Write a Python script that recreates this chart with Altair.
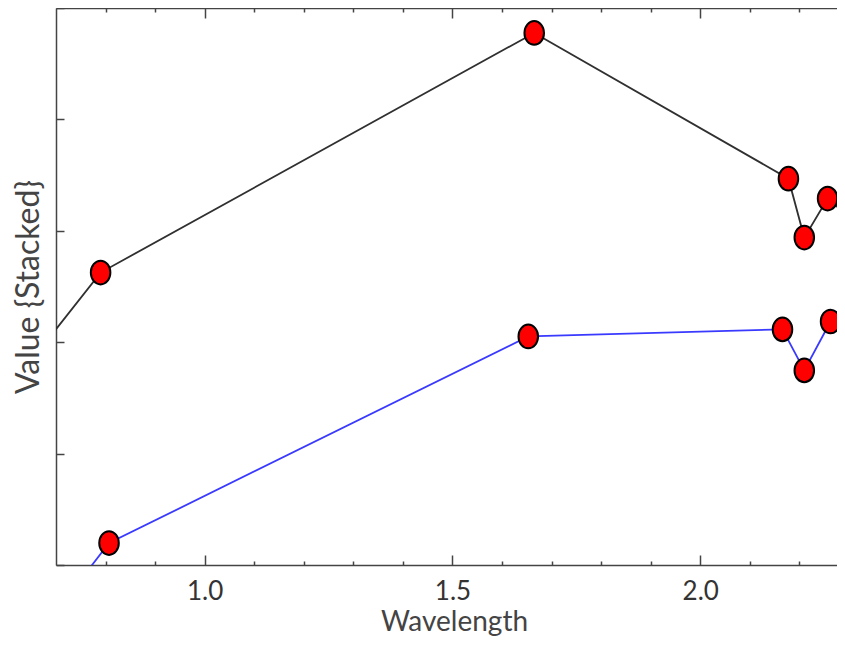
import altair as alt
import pandas as pd

# ---- data ----
wl_top = [0.66, 0.79, 1.665, 2.178, 2.21, 2.257, 2.32]
val_top = [1.89, 2.625, 4.776, 3.468, 2.939, 3.289, 3.055]
wl_bot = [0.66, 0.807, 1.653, 2.166, 2.21, 2.263, 2.32]
val_bot = [-0.65, 0.197, 2.052, 2.115, 1.747, 2.186, 1.877]

x_major = [1.0, 1.5, 2.0]
x_minor = [0.8, 0.9, 1.1, 1.2, 1.3, 1.4, 1.6, 1.7, 1.8, 1.9, 2.1, 2.2]
y_ticks = [0, 1, 2, 3, 4, 5]

top_df = pd.DataFrame({"wl": wl_top, "v": val_top})
bot_df = pd.DataFrame({"wl": wl_bot, "v": val_bot})

FONT = "Lato"
AX = "#444444"
xs = alt.Scale(domain=[0.7, 2.276], nice=False, zero=False)
ys = alt.Scale(domain=[0, 5], nice=False, zero=False)


def inward(n):
    return alt.ExprRef(expr=str(-n))


def axis(**kw):
    base = dict(grid=False, domain=False, ticks=False, labels=False, title=None,
                domainColor=AX, tickColor=AX, domainWidth=1.5, tickWidth=1.5)
    base.update(kw)
    return alt.Axis(**base)


ellipse = "M0,-1A0.826,1,0,1,1,0,1A0.826,1,0,1,1,0,-1Z"

# black line; bottom axis (domain, major ticks inward, labels, title); left axis
l1 = alt.Chart(top_df).mark_line(color="#303030", strokeWidth=1.8, clip=True).encode(
    x=alt.X("wl:Q", scale=xs, axis=axis(orient="bottom", domain=True, ticks=True,
                                         tickSize=inward(10), labels=True,
                                         values=x_major, format=".1f", title="Wavelength",
                                         labelFont=FONT, labelFontSize=26, labelColor="#333333",
                                         labelPadding=23, titleFont=FONT, titleFontSize=28,
                                         titleColor="#444444", titleFontWeight="normal",
                                         titlePadding=4, titleX=398, titleAlign="center")),
    y=alt.Y("v:Q", scale=ys, axis=axis(orient="left", domain=True, ticks=True,
                                        tickSize=inward(8), values=y_ticks,
                                        title="Value {Stacked}",
                                        titleFont=FONT, titleFontSize=32, titleColor="#444444",
                                        titleFontWeight="normal", titlePadding=10)),
)

# blue line; bottom minor ticks
l2 = alt.Chart(bot_df).mark_line(color="#3a3aff", strokeWidth=1.8, clip=True).encode(
    x=alt.X("wl:Q", scale=xs, axis=axis(orient="bottom", ticks=True, values=x_minor,
                                         tickSize=inward(4))),
    y=alt.Y("v:Q", scale=ys, axis=None),
)

pts_kw = dict(shape=ellipse, size=560, filled=True, fill="#ff0000", stroke="#000000",
              strokeWidth=2, opacity=1, clip=True)

# black-line markers; top axis (domain + major ticks inward)
l3 = alt.Chart(top_df).mark_point(**pts_kw).encode(
    x=alt.X("wl:Q", scale=xs, axis=axis(orient="top", domain=True, ticks=True,
                                         values=x_major, tickSize=inward(10))),
    y=alt.Y("v:Q", scale=ys, axis=None),
)

# blue-line markers; top minor ticks
l4 = alt.Chart(bot_df).mark_point(**pts_kw).encode(
    x=alt.X("wl:Q", scale=xs, axis=axis(orient="top", ticks=True, values=x_minor,
                                         tickSize=inward(4))),
    y=alt.Y("v:Q", scale=ys, axis=None),
)

chart = (
    alt.layer(l1, l2, l3, l4)
    .resolve_axis(x="independent", y="independent")
    .properties(width=781, height=557,
                autosize=alt.AutoSizeParams(type="none"),
                padding={"left": 48, "top": 0, "right": 0, "bottom": 74})
    .configure_view(stroke=None)
    .configure(background="white")
)

chart.save("out.html", embed_options={"renderer": "svg", "actions": False})
